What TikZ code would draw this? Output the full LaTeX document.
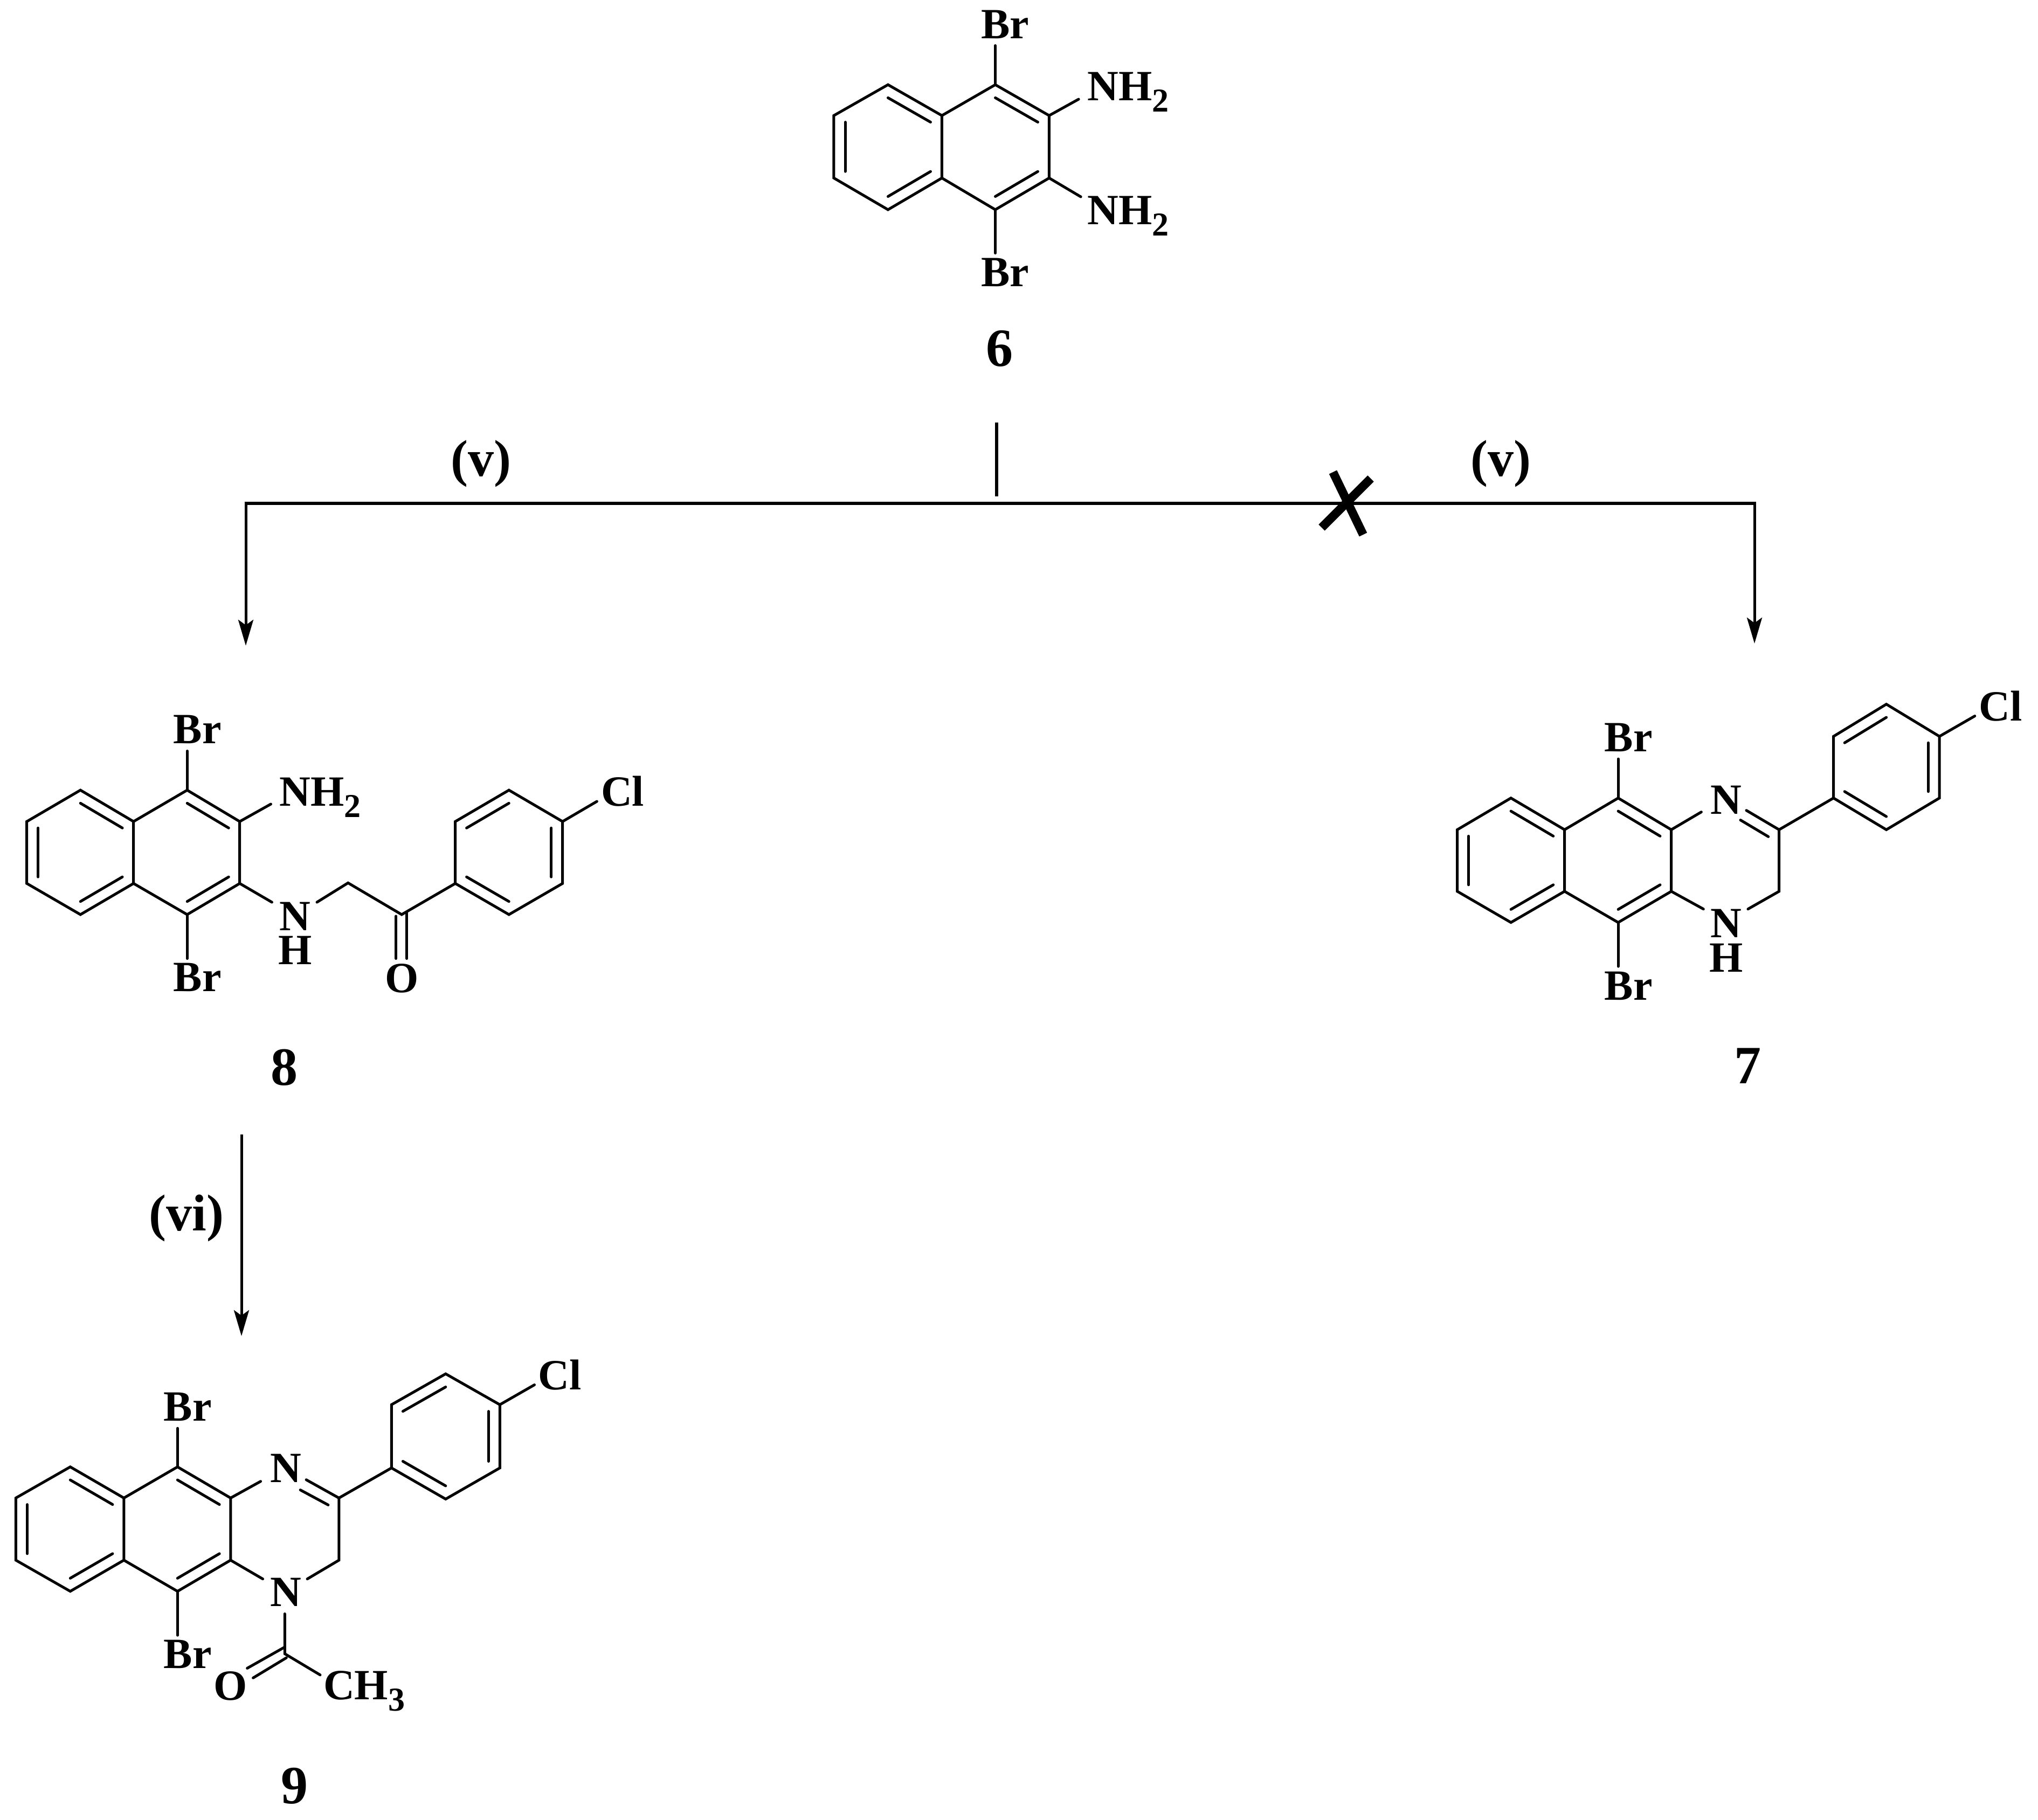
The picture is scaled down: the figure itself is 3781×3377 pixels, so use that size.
\documentclass[tikz,border=0pt]{standalone}
\usepackage{fontspec}
\setmainfont{Liberation Serif}
\usetikzlibrary{calc,arrows.meta}
\newcommand{\subdigit}[1]{\raisebox{-10.5pt}{\fontsize{31}{31}\selectfont #1}}
\newcommand{\innerbond}[3]{\draw[bond] ($(#1)!.21!(#3)$) -- ($(#2)!.21!(#3)$);}
\tikzset{
  bond/.style={line width=2.5pt,line cap=round,line join=miter},
  atom/.style={font=\fontsize{40}{40}\selectfont\bfseries,inner sep=0pt,outer sep=0pt,anchor=base,text=black},
  cpd/.style={font=\fontsize{50}{50}\selectfont\bfseries,inner sep=0pt,outer sep=0pt,anchor=base},
  cond/.style={font=\fontsize{48}{48}\selectfont\bfseries,inner sep=0pt,outer sep=0pt,anchor=base},
  schemeline/.style={line width=3pt},
  schemearrow/.style={line width=2.5pt,-{Stealth[length=24pt,width=14pt,inset=5pt]}},
  crossout/.style={line width=8pt},
  about/.style args={#1 and #2}{shift={(#1,#2)},scale=.995,shift={(-#1,-#2)}}
}
\begin{document}
\begin{tikzpicture}[x=0.5pt,y=-0.5pt]
\useasboundingbox (0,0) rectangle (3781,3377);
% ---------- compound 6
\begin{scope}[about=1450 and 0]
\foreach \n/\x/\y in {a/1547.5/215.5,b/1648.5/158,c/1749/215.5,d/1749/332,e/1648.5/391,f/1547.5/332,
  g/1848.6/158,h/1949/215.5,i/1949/332,j/1848.6/391,p/1648.5/274,q/1848.6/274,
  r/1848.6/85,s/1848.6/472,t/2004/185,u/2008/367}
  \coordinate (six\n) at (\x,\y);
\draw[bond] (sixa)--(sixb)--(sixc)--(sixd)--(sixe)--(sixf)--cycle;
\draw[bond] (sixc)--(sixg)--(sixh)--(sixi)--(sixj)--(sixd);
\innerbond{sixb}{sixc}{sixp}\innerbond{sixa}{sixf}{sixp}\innerbond{sixe}{sixd}{sixp}
\innerbond{sixg}{sixh}{sixq}\innerbond{sixj}{sixi}{sixq}
\draw[bond] (sixg)--(sixr); \draw[bond] (sixj)--(sixs);
\draw[bond] (sixh)--(sixt); \draw[bond] (sixi)--(sixu);
\node[atom] (sixBrA) at (1867,72) {Br};
\node[atom] (sixBrB) at (1867,534) {Br};
\node[atom] (sixNa) at (2096,187) {NH\subdigit{2}};
\node[atom] (sixNb) at (2096,419) {NH\subdigit{2}};
\node[cpd] (cpdsix) at (1857,683) {6};
\end{scope}
% ---------- scheme lines
\coordinate (stubT) at (1849,784);
\coordinate (stubB) at (1849,921);
\coordinate (jL) at (456,934);
\coordinate (jR) at (3255,934);
\coordinate (endL) at (456,1198);
\coordinate (endR) at (3255,1194);
\coordinate (lowT) at (448,2105);
\coordinate (lowB) at (448,2479);
\coordinate (xa) at (2473,876);
\coordinate (xb) at (2529,992);
\coordinate (xc) at (2543,888);
\coordinate (xd) at (2452,979);
\draw[schemeline] (stubT)--(stubB);
\draw[schemeline] ($(jL)+(-2.5,0)$)--($(jR)+(2.5,0)$);
\draw[schemearrow] (jL)--(endL);
\draw[schemearrow] (jR)--(endR);
\draw[schemearrow] (lowT)--(lowB);
\draw[crossout] (xa)--(xb);
\draw[crossout] (xc)--(xd);
\node[cond] (condL) at (892,883) {(v)};
\node[cond] (condR) at (2784,883) {(v)};
\node[cond] (condV) at (346,2283) {(vi)};
% ---------- compound 8
\begin{scope}[about=0 and 1300]
\foreach \n/\x/\y in {a/50/1525.5,b/150/1467,c/249/1525.5,d/249/1641,e/150/1699,f/50/1641,
  g/349/1467,h/447/1525.5,i/447/1641,j/349/1699,p/150/1583,q/349/1583,
  r/349/1394,s/349/1781,t/505/1493,u/507/1676,v/591/1676,w/649/1640,x/749/1699,
  k/849/1641,l/849/1525.5,m/949/1467,n/1049/1525.5,o/1049/1641,y/949/1699,z/949/1583,
  A/1113/1488,B/738.5/1702,C/738.5/1781,D/758.6/1696,E/758.6/1781}
  \coordinate (eit\n) at (\x,\y);
\draw[bond] (eita)--(eitb)--(eitc)--(eitd)--(eite)--(eitf)--cycle;
\draw[bond] (eitc)--(eitg)--(eith)--(eiti)--(eitj)--(eitd);
\innerbond{eitb}{eitc}{eitp}\innerbond{eita}{eitf}{eitp}\innerbond{eite}{eitd}{eitp}
\innerbond{eitg}{eith}{eitq}\innerbond{eitj}{eiti}{eitq}
\draw[bond] (eitg)--(eitr); \draw[bond] (eitj)--(eits);
\draw[bond] (eith)--(eitt); \draw[bond] (eiti)--(eitu);
\draw[bond] (eitv)--(eitw)--(eitx)--(eitk);
\draw[bond] (eitk)--(eitl)--(eitm)--(eitn)--(eito)--(eity)--cycle;
\innerbond{eitl}{eitm}{eitz}\innerbond{eitn}{eito}{eitz}\innerbond{eitk}{eity}{eitz}
\draw[bond] (eitn)--(eitA);
\draw[bond] (eitB)--(eitC); \draw[bond] (eitD)--(eitE);
\node[atom] (eitBrA) at (368,1380) {Br};
\node[atom] (eitBrB) at (368,1842) {Br};
\node[atom] (eitNH) at (597,1496) {NH\subdigit{2}};
\node[atom] (eitN) at (550,1729) {N};
\node[atom] (eitH) at (550,1792) {H};
\node[atom] (eitO) at (749,1844) {O};
\node[atom] (eitCl) at (1161,1496) {Cl};
\node[cpd] (cpdeit) at (530,2017) {8};
\end{scope}
% ---------- compound 7
\begin{scope}[about=2650 and 1250]
\foreach \n/\x/\y in {a/2704/1541,b/2804/1482,c/2904/1541,d/2904/1656,e/2804/1714,f/2704/1656,
  g/3004/1482,h/3103/1541,i/3103/1656,j/3004/1714,p/2804/1598,q/3004/1598,
  r/3004/1409,s/3004/1796,t/3159/1508,u/3163/1689,v/3304/1541,w/3304/1656,x/3246/1689,
  k/3243/1505,l/3284/1554,m/3232/1523,
  A/3405.5/1482,B/3405.5/1367,C/3504/1307,D/3603/1367,E/3603/1482,F/3504/1541,G/3504/1424,H/3669/1329}
  \coordinate (sev\n) at (\x,\y);
\draw[bond] (seva)--(sevb)--(sevc)--(sevd)--(seve)--(sevf)--cycle;
\draw[bond] (sevc)--(sevg)--(sevh)--(sevi)--(sevj)--(sevd);
\innerbond{sevb}{sevc}{sevp}\innerbond{seva}{sevf}{sevp}\innerbond{seve}{sevd}{sevp}
\innerbond{sevg}{sevh}{sevq}\innerbond{sevj}{sevi}{sevq}
\draw[bond] (sevg)--(sevr); \draw[bond] (sevj)--(sevs);
\draw[bond] (sevh)--(sevt); \draw[bond] (sevi)--(sevu);
\draw[bond] (sevk)--(sevv)--(sevw)--(sevx);
\draw[bond] (sevl)--(sevm);
\draw[bond] (sevv)--(sevA);
\draw[bond] (sevA)--(sevB)--(sevC)--(sevD)--(sevE)--(sevF)--cycle;
\innerbond{sevB}{sevC}{sevG}\innerbond{sevD}{sevE}{sevG}\innerbond{sevA}{sevF}{sevG}
\draw[bond] (sevD)--(sevH);
\node[atom] (sevBrA) at (3023,1395) {Br};
\node[atom] (sevBrB) at (3023,1859) {Br};
\node[atom] (sevNa) at (3205,1511.5) {N};
\node[atom] (sevNb) at (3205,1742) {N};
\node[atom] (sevHb) at (3205,1806) {H};
\node[atom] (sevCl) at (3717,1338) {Cl};
\node[cpd] (cpdsev) at (3245,2014) {7};
\end{scope}
% ---------- compound 9
\begin{scope}[about=0 and 2500]
\foreach \n/\x/\y in {a/29.5/2781,b/131/2723,c/231/2781,d/231/2897,e/131/2955,f/29.5/2897,
  g/331/2723,h/430/2781,i/430/2897,j/331/2955,p/131/2839,q/331/2839,
  r/331/2651,s/331/3037,t/486/2750,u/490/2932,v/632/2781,w/632/2897,x/573/2932,
  k/571/2747,l/612/2794,m/560/2766,
  A/730/2725,B/730/2607,C/831/2549.5,D/932/2607,E/932/2725,F/831/2783,G/831/2666,H/996.5/2570,
  I/531/2997,J/531/3071.5,K/597/3111,L/531/3059,M/461/3098.5,N/534/3079,O/472/3116.5}
  \coordinate (nin\n) at (\x,\y);
\draw[bond] (nina)--(ninb)--(ninc)--(nind)--(nine)--(ninf)--cycle;
\draw[bond] (ninc)--(ning)--(ninh)--(nini)--(ninj)--(nind);
\innerbond{ninb}{ninc}{ninp}\innerbond{nina}{ninf}{ninp}\innerbond{nine}{nind}{ninp}
\innerbond{ning}{ninh}{ninq}\innerbond{ninj}{nini}{ninq}
\draw[bond] (ning)--(ninr); \draw[bond] (ninj)--(nins);
\draw[bond] (ninh)--(nint); \draw[bond] (nini)--(ninu);
\draw[bond] (nink)--(ninv)--(ninw)--(ninx);
\draw[bond] (ninl)--(ninm);
\draw[bond] (ninv)--(ninA);
\draw[bond] (ninA)--(ninB)--(ninC)--(ninD)--(ninE)--(ninF)--cycle;
\innerbond{ninB}{ninC}{ninG}\innerbond{ninD}{ninE}{ninG}\innerbond{ninA}{ninF}{ninG}
\draw[bond] (ninD)--(ninH);
\draw[bond] (ninI)--(ninJ)--(ninK);
\draw[bond] (ninL)--(ninM); \draw[bond] (ninN)--(ninO);
\node[atom] (ninBrA) at (350,2637) {Br};
\node[atom] (ninBrB) at (350,3098.5) {Br};
\node[atom] (ninNa) at (533,2752) {N};
\node[atom] (ninNb) at (533,2983) {N};
\node[atom] (ninOx) at (430,3157.5) {O};
\node[atom] (ninCH) at (679,3157) {CH\subdigit{3}};
\node[atom] (ninCl) at (1043.5,2579) {Cl};
\node[cpd] (cpdnin) at (549,3351) {9};
\end{scope}
\end{tikzpicture}
\end{document}
